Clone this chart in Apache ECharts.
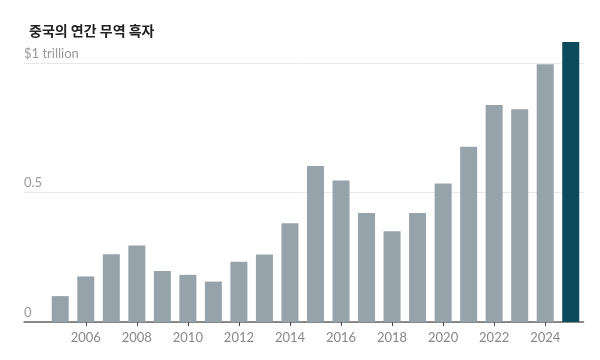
<!DOCTYPE html>
<html><head><meta charset="utf-8">
<script src="https://cdn.jsdelivr.net/npm/echarts@6/dist/echarts.min.js"></script>
<style>html,body{margin:0;padding:0;background:#fff}#c{width:600px;height:360px}</style>
</head><body><div id="c"></div>
<script>
var title = '중국의 연간 무역 흑자';
var years = [2005,2006,2007,2008,2009,2010,2011,2012,2013,2014,2015,2016,2017,2018,2019,2020,2021,2022,2023,2024,2025];
var surplus = [0.100,0.176,0.262,0.295,0.197,0.182,0.156,0.233,0.261,0.381,0.602,0.546,0.421,0.350,0.421,0.535,0.677,0.838,0.821,0.995,1.081];
var highlightYear = 2025;
var xTickYears = [2006,2008,2010,2012,2014,2016,2018,2020,2022,2024];
var yTicks = [0,0.5,1];
var yTickLabels = {'0':'0','0.5':'0.5','1':'$1 trillion'};

var chart = echarts.init(document.getElementById('c'));
chart.setOption({
  animation:false,
  title:{text:title,left:24,top:19,textStyle:{fontFamily:'Noto Sans CJK KR',fontWeight:'bold',fontSize:14,color:'#222'}},
  grid:{left:24,right:16.5,top:63,bottom:38},
  xAxis:{type:'value',min:2003.58,max:2025.5,
    axisLine:{show:true,onZero:false,lineStyle:{color:'#666',width:1.5}},
    axisTick:{show:true,length:4,customValues:xTickYears,lineStyle:{color:'#444'}},
    axisLabel:{customValues:xTickYears,color:'#888',fontFamily:'Lato',fontSize:13,margin:9,formatter:function(v){return String(v);}},
    splitLine:{show:false}},
  yAxis:{type:'value',min:0,max:1,interval:0.5,
    axisLine:{show:false},axisTick:{show:false},
    axisLabel:{inside:true,margin:0,verticalAlign:'bottom',padding:[0,0,3,0],color:'#999',fontFamily:'Lato',fontSize:13,
      formatter:function(v){return yTickLabels[String(v)]!==undefined?yTickLabels[String(v)]:'';}},
    splitLine:{show:true,lineStyle:{color:'#e8e8e8',width:1}}},
  series:[{type:'bar',barWidth:17,clip:false,
    data:years.map(function(y,i){return {value:[y,surplus[i]],itemStyle:{color:y===highlightYear?'#0b4b5b':'#96a3ab'}};})}]
});
</script></body></html>
